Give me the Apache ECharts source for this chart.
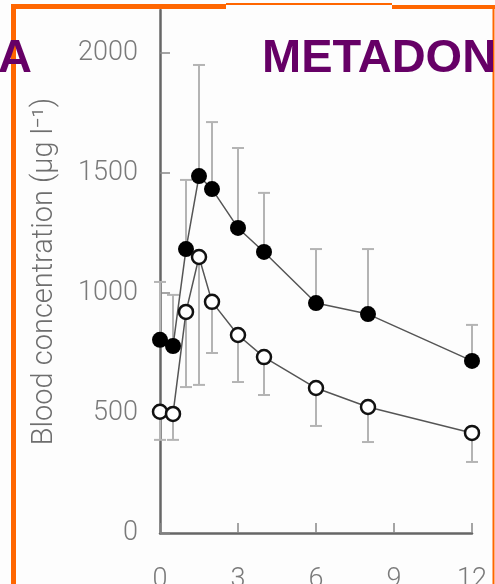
<!DOCTYPE html>
<html>
<head>
<meta charset="utf-8">
<script src="https://cdn.jsdelivr.net/npm/echarts@6/dist/echarts.min.js"></script>
<style>
html,body{margin:0;padding:0;background:#fdfdfd;}
#chart{width:495px;height:584px;}
</style>
</head>
<body>
<div id="chart"></div>
<script>
// Data
const times = [0, 0.5, 1, 1.5, 2, 3, 4, 6, 8, 12];
const filledValues = [805, 779, 1183, 1487, 1433, 1271, 1171, 958, 912, 717];
const filledUpper = [1046, 992, 1471, 1950, 1712, 1604, 1417, 1183, 1183, 867];
const openValues = [505, 496, 921, 1150, 963, 825, 733, 604, 525, 417];
const openLower = [388, 388, 608, 617, 750, 629, 575, 446, 379, 296];
const xTicks = [0, 3, 6, 9, 12];
const yTicks = [0, 500, 1000, 1500, 2000];
const yAxisTitle = 'Blood concentration (µg l⁻¹)';
const panelLabel = 'A';
const titleText = 'METADON';

const filledData = times.map((t, i) => [t, filledValues[i]]);
const openData = times.map((t, i) => [t, openValues[i]]);
const filledErr = times.map((t, i) => [t, filledValues[i], filledUpper[i]]);
const openErr = times.map((t, i) => [t, openLower[i], openValues[i]]);

function errRender(params, api) {
  const x = api.value(0);
  const p1 = api.coord([x, api.value(1)]);
  const p2 = api.coord([x, api.value(2)]);
  const capY = api.value(3) === 1 ? p2[1] : p1[1];
  const half = 6;
  const style = {stroke: '#b4b4b4', lineWidth: 2, fill: null};
  return {
    type: 'group',
    children: [
      {type: 'line', shape: {x1: p1[0], y1: p1[1], x2: p2[0], y2: p2[1]}, style: style},
      {type: 'line', shape: {x1: p1[0] - half, y1: capY, x2: p1[0] + half, y2: capY}, style: style}
    ]
  };
}

const chart = echarts.init(document.getElementById('chart'));
const axisFont = {color: '#7a7a7a', fontSize: 27, fontFamily: 'Roboto', fontWeight: 300,
  formatter: v => String(v)};
chart.setOption({
  backgroundColor: '#fdfdfd',
  animation: false,
  grid: {left: 160, right: 23, top: 10, bottom: 51, containLabel: false, outerBoundsMode: 'none'},
  xAxis: {
    type: 'value', min: 0, max: 12, interval: 3,
    axisLine: {show: true, lineStyle: {color: '#666', width: 2.5}},
    axisTick: {show: true, inside: true, length: 10, lineStyle: {color: '#888', width: 1.5}, customValues: xTicks},
    axisLabel: Object.assign({margin: 34, customValues: xTicks}, axisFont),
    splitLine: {show: false}
  },
  yAxis: {
    type: 'value', min: 0, max: 2179,
    axisLine: {show: true, lineStyle: {color: '#666', width: 2.5}},
    axisTick: {show: true, inside: true, length: 10, lineStyle: {color: '#888', width: 1.5}, customValues: yTicks},
    axisLabel: Object.assign({margin: 22, customValues: yTicks}, axisFont),
    splitLine: {show: false},
    name: yAxisTitle,
    nameLocation: 'middle',
    nameGap: 101,
    nameTextStyle: {color: '#6e6e6e', fontSize: 29, fontFamily: 'Roboto', fontWeight: 300}
  },
  series: [
    {type: 'custom', renderItem: errRender, data: filledErr.map(d => d.concat([1])), z: 1, silent: true},
    {type: 'custom', renderItem: errRender, data: openErr.map(d => d.concat([0])), z: 1, silent: true},
    {type: 'line', data: filledData, symbol: 'circle', symbolSize: 16, z: 3,
      itemStyle: {color: '#000'}, lineStyle: {color: '#555', width: 1.5}},
    {type: 'line', data: openData, symbol: 'circle', symbolSize: 14, z: 3,
      itemStyle: {color: '#fff', borderColor: '#111', borderWidth: 2.5}, lineStyle: {color: '#555', width: 1.5}}
  ],
  graphic: [
    {type: 'line', shape: {x1: 13.5, y1: 6, x2: 13.5, y2: 584}, style: {stroke: '#ff6600', lineWidth: 5}, z: 10},
    {type: 'line', shape: {x1: 11, y1: 6.5, x2: 226, y2: 6.5}, style: {stroke: '#ff6600', lineWidth: 5}, z: 10},
    {type: 'line', shape: {x1: 226, y1: 4, x2: 392, y2: 4}, style: {stroke: '#ff6600', lineWidth: 2}, z: 10},
    {type: 'line', shape: {x1: 392, y1: 7, x2: 495, y2: 7}, style: {stroke: '#ff6600', lineWidth: 4}, z: 10},
    {type: 'line', shape: {x1: 493.5, y1: 5, x2: 493.5, y2: 584}, style: {stroke: '#ff6600', lineWidth: 2}, z: 10},
    {type: 'text', left: -2, top: 36, z: 11,
      style: {text: panelLabel, fill: '#660066', font: 'bold 47px "Liberation Sans", Arial, sans-serif'}},
    {type: 'text', left: 262, top: 36, z: 11,
      style: {text: titleText, fill: '#660066', font: 'bold 47px "Liberation Sans", Arial, sans-serif'}}
  ]
});
</script>
</body>
</html>
